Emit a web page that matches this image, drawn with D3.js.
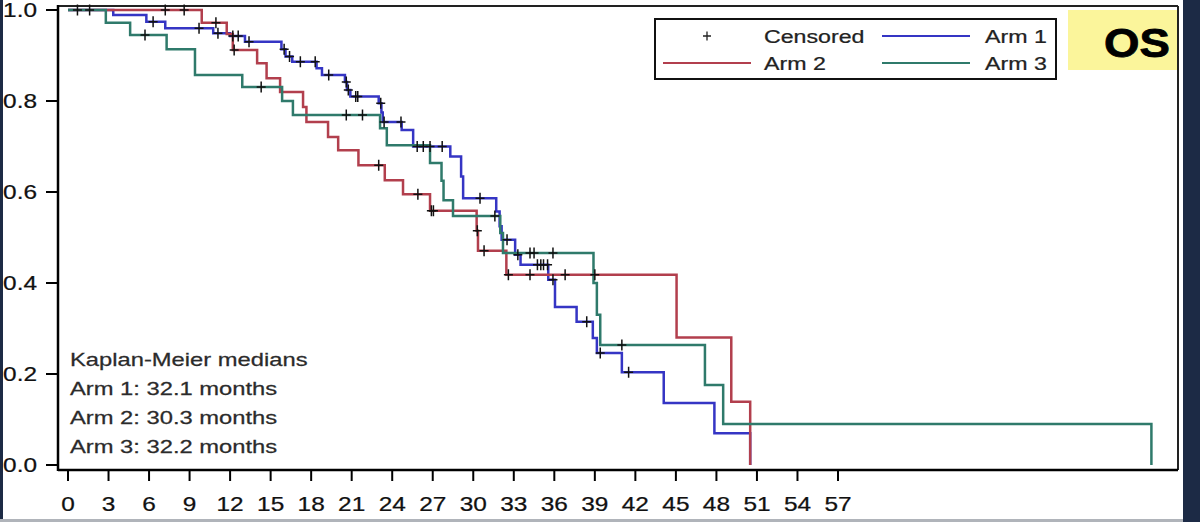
<!DOCTYPE html>
<html><head><meta charset="utf-8">
<script src="https://cdn.jsdelivr.net/npm/d3@7"></script>
<style>body{margin:0;background:#fff;overflow:hidden} svg{display:block}</style>
</head><body><svg id="c" width="1200" height="522"></svg>
<script>
// ---- data (months, survival) ----
const arm1Steps = [[0,1],[3.35,0.989],[5.8,0.974],[7.2,0.96],[10.75,0.949],[12.0,0.943],[13.1,0.930],[15.8,0.914],[16.1,0.898],[16.6,0.886],[18.4,0.872],[18.8,0.857],[20.5,0.842],[20.65,0.824],[20.9,0.810],[23.0,0.795],[23.2,0.775],[23.3,0.754],[24.7,0.736],[25.55,0.70],[28.3,0.678],[29.1,0.634],[29.25,0.586],[31.7,0.557],[31.95,0.525],[32.1,0.495],[33.1,0.462],[33.5,0.44],[35.55,0.407],[36.05,0.347],[37.65,0.315],[38.85,0.279],[39.15,0.246],[41.0,0.204],[44.1,0.136],[47.85,0.07],[50.5,0.0]];
const arm1Censor = [0.7,1.6,6.3,9.7,11.1,12.2,12.6,13.4,16.0,16.4,17.2,18.3,19.3,20.6,20.75,21.3,21.45,23.15,23.4,24.65,25.85,26.3,26.8,27.7,30.5,32.5,33.3,34.75,35.0,35.2,35.5,35.9,38.4,39.4,41.5];
const arm2Steps = [[0,1],[9.9,0.972],[11.75,0.947],[12.2,0.912],[14.0,0.883],[14.7,0.85],[15.7,0.82],[17.4,0.787],[17.65,0.754],[19.25,0.721],[20.0,0.692],[21.5,0.659],[23.45,0.626],[24.8,0.595],[26.8,0.559],[30.25,0.515],[30.35,0.471],[32.45,0.418],[45.05,0.28],[49.1,0.139],[50.5,0.0]];
const arm2Censor = [7.2,8.6,10.95,12.3,23.0,25.9,26.9,27.05,30.3,30.8,32.6,34.2,36.8,39.0];
const arm3Steps = [[0,1],[2.8,0.972],[4.6,0.945],[7.3,0.914],[9.4,0.857],[12.9,0.831],[15.85,0.80],[16.65,0.769],[23.1,0.74],[23.6,0.703],[26.8,0.664],[27.65,0.625],[27.8,0.582],[28.5,0.547],[32.0,0.51],[32.2,0.466],[38.9,0.40],[39.15,0.33],[39.4,0.264],[47.15,0.176],[48.5,0.09],[80.2,0.0]];
const arm3Censor = [5.7,14.3,20.6,21.8,31.6,34.2,34.5,35.9,41.0];
const armNames = ["Arm 1","Arm 2","Arm 3"];
const armColors = ["#3535c4","#b23f4d","#2f7a6b"];
const medianLines = ["Kaplan-Meier medians","Arm 1: 32.1 months","Arm 2: 30.3 months","Arm 3: 32.2 months"];
const xTicks = d3.range(0,58,3);
const yTicks = [0,0.2,0.4,0.6,0.8,1.0];

const svg = d3.select("#c");
const SX = 1.22; // horizontal stretch of the source image text
const FONT = "Liberation Sans, Arial, sans-serif";

function stext(px,py,str,size,anchor,opts={}){
  const g = svg.append("g").attr("transform",`translate(${px},${py}) scale(${opts.sx||SX},1)`);
  return g.append("text").attr("x",0).attr("y",0).attr("text-anchor",anchor||"start")
    .attr("font-family",opts.family||FONT).attr("font-size",size)
    .attr("font-weight",opts.weight||"normal").attr("fill",opts.fill||"#111")
    .attr("stroke",opts.fill||"#111").attr("stroke-width",opts.sw||0.25).text(str);
}

// page edges
svg.append("rect").attr("x",0).attr("y",0).attr("width",1200).attr("height",522).attr("fill","#fff");
svg.append("rect").attr("x",0).attr("y",0).attr("width",3).attr("height",522).attr("fill","#1c2a45");
svg.append("rect").attr("x",1183).attr("y",0).attr("width",17).attr("height",522).attr("fill","#1c2a45");
svg.append("rect").attr("x",0).attr("y",519).attr("width",1183).attr("height",3).attr("fill","#b0b4ba");

// scales
const x = d3.scaleLinear().domain([0,57]).range([68,838]);
const y = d3.scaleLinear().domain([0,1]).range([465,10]);
const pLeft = 58, pRight = 1178, pTop = 6, pBottom = 470;

// frame
svg.append("line").attr("x1",pLeft).attr("x2",pRight).attr("y1",pTop).attr("y2",pTop).attr("stroke","#222").attr("stroke-width",2);
svg.append("line").attr("x1",pRight).attr("x2",pRight).attr("y1",pTop).attr("y2",pBottom).attr("stroke","#222").attr("stroke-width",2);
svg.append("line").attr("x1",pLeft).attr("x2",pLeft).attr("y1",pTop-1).attr("y2",pBottom+1).attr("stroke","#000").attr("stroke-width",2.5);
svg.append("line").attr("x1",pLeft).attr("x2",pRight).attr("y1",pBottom).attr("y2",pBottom).attr("stroke","#000").attr("stroke-width",2.5);

// axes ticks
xTicks.forEach(t=>{
  svg.append("line").attr("x1",x(t)).attr("x2",x(t)).attr("y1",pBottom).attr("y2",pBottom+11).attr("stroke","#000").attr("stroke-width",2);
  stext(x(t),511,String(t),20,"middle");
});
yTicks.forEach(t=>{
  svg.append("line").attr("x1",pLeft-12).attr("x2",pLeft).attr("y1",y(t)).attr("y2",y(t)).attr("stroke","#000").attr("stroke-width",2);
  stext(37,y(t)+7,d3.format(".1f")(t),20,"end");
});

// curves (Arm 1 underneath, Arm 3 on top)
const line = d3.line().x(d=>x(d[0])).y(d=>y(d[1])).curve(d3.curveStepAfter);
const arms = [[arm1Steps,arm1Censor],[arm2Steps,arm2Censor],[arm3Steps,arm3Censor]];
function survAt(steps,t){let s=1;for(const p of steps){if(p[0]<=t)s=p[1];}return s;}
[0,1,2].forEach(i=>{
  svg.append("path").attr("d",line(arms[i][0])).attr("fill","none").attr("stroke",armColors[i]).attr("stroke-width",2.5);
});
const plus = "M-4.5,0H4.5M0,-5.5V5.5";
[0,1,2].forEach(i=>{
  arms[i][1].forEach(t=>{
    svg.append("path").attr("d",plus).attr("transform",`translate(${x(t)},${y(survAt(arms[i][0],t))})`)
      .attr("stroke","#111").attr("stroke-width",1.5).attr("fill","none");
  });
});

// medians text
medianLines.forEach((s,i)=>{
  stext(70,366+i*29,s,19,"start",{fill:"#2b2b2b",sx:1.25});
});

// legend
svg.append("rect").attr("x",655).attr("y",19).attr("width",401).attr("height",60).attr("fill","#fff").attr("stroke","#111").attr("stroke-width",2);
svg.append("path").attr("d","M-4,0H4M0,-4.5V4.5").attr("transform","translate(707,36)").attr("stroke","#222").attr("stroke-width",1.3);
stext(764,43,"Censored",19,"start",{fill:"#222"});
const legItems = [{i:0,x1:882,yy:36,tx:985},{i:1,x1:663,yy:63,tx:764},{i:2,x1:882,yy:63,tx:985}];
legItems.forEach(o=>{
  svg.append("line").attr("x1",o.x1).attr("x2",o.x1+88).attr("y1",o.yy).attr("y2",o.yy).attr("stroke",armColors[o.i]).attr("stroke-width",2);
  stext(o.tx,o.yy+7,armNames[o.i],19,"start",{fill:"#222"});
});

// OS badge
svg.append("rect").attr("x",1068).attr("y",10).attr("width",109).attr("height",60).attr("fill","#fbf59b");
stext(1137,57,"OS",40,"middle",{weight:"bold",fill:"#000",sx:1.14,sw:0.8});
</script>
</body></html>
